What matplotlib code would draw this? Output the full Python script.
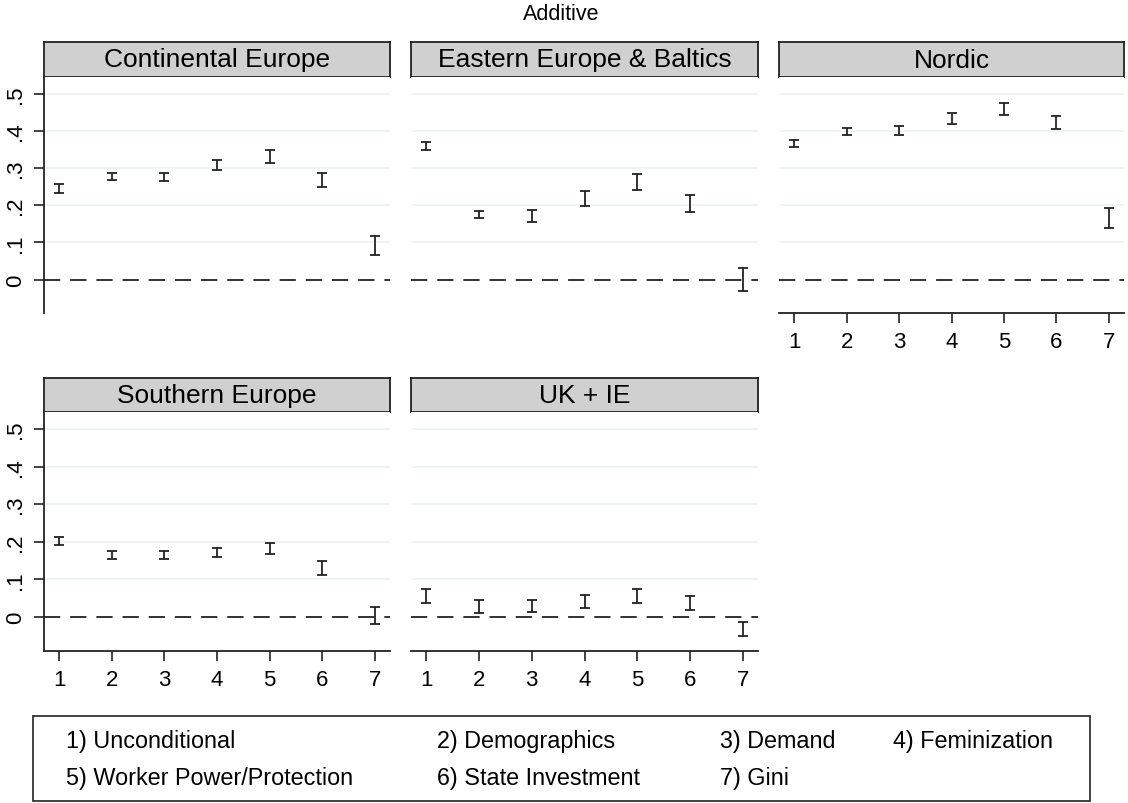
import matplotlib
matplotlib.use("Agg")
from matplotlib import pyplot as plt
from matplotlib.patches import Rectangle

plt.rcParams['font.family'] = ['Liberation Sans', 'DejaVu Sans']

# DATA: lower / upper bounds of the confidence intervals for each model 1..7
models = [1, 2, 3, 4, 5, 6, 7]
regions = ["Continental Europe", "Eastern Europe & Baltics", "Nordic",
           "Southern Europe", "UK + IE"]

cont_lo = [0.234, 0.268, 0.264, 0.294, 0.314, 0.249, 0.066]
cont_hi = [0.258, 0.288, 0.287, 0.321, 0.348, 0.287, 0.116]

east_lo = [0.348, 0.166, 0.154, 0.199, 0.241, 0.181, -0.031]
east_hi = [0.371, 0.184, 0.188, 0.237, 0.284, 0.227, 0.030]

nord_lo = [0.357, 0.389, 0.389, 0.419, 0.442, 0.405, 0.139]
nord_hi = [0.376, 0.409, 0.412, 0.448, 0.475, 0.439, 0.193]

south_lo = [0.191, 0.154, 0.154, 0.161, 0.167, 0.112, -0.019]
south_hi = [0.214, 0.176, 0.176, 0.183, 0.196, 0.149, 0.027]

uk_lo = [0.038, 0.010, 0.013, 0.024, 0.038, 0.020, -0.051]
uk_hi = [0.074, 0.045, 0.045, 0.060, 0.074, 0.056, -0.012]

lows = [cont_lo, east_lo, nord_lo, south_lo, uk_lo]
highs = [cont_hi, east_hi, nord_hi, south_hi, uk_hi]

yticks = [0, 0.1, 0.2, 0.3, 0.4, 0.5]
ytick_labels = ["0", ".1", ".2", ".3", ".4", ".5"]

legend_labels = ["1) Unconditional", "2) Demographics", "3) Demand", "4) Feminization",
                 "5) Worker Power/Protection", "6) State Investment", "7) Gini"]

W, H = 1128, 804
fig = plt.figure(figsize=(W / 100, H / 100), dpi=100)


def rect(x0, y0, x1, y1):
    """pixel box -> figure fraction"""
    return [x0 / W, 1 - y1 / H, (x1 - x0) / W, (y1 - y0) / H]


cols = [(44, 390), (411, 758), (779, 1124)]
rows = [(43, 78, 314), (379, 413, 652)]
# which spines each panel shows: (left axis, bottom axis)
axis_flags = [(True, False), (False, False), (False, True), (True, True), (False, True)]

for k, name in enumerate(regions):
    r, c = divmod(k, 3)
    x0, x1 = cols[c]
    s0, s1, p1 = rows[r]

    # strip
    sax = fig.add_axes(rect(x0, s0, x1, s1))
    sax.set_facecolor("#d0d0d0")
    sax.set_xticks([])
    sax.set_yticks([])
    for sp in sax.spines.values():
        sp.set_linewidth(1.3)
        sp.set_color("#222222")
    sax.text(0.5, 0.5, name, ha="center", va="center", fontsize=19, transform=sax.transAxes)

    ax = fig.add_axes(rect(x0, s1, x1, p1))
    lo = lows[k]
    hi = highs[k]
    mid = [(a + b) / 2 for a, b in zip(lo, hi)]
    err = [[m - a for m, a in zip(mid, lo)], [b - m for m, b in zip(mid, hi)]]
    ax.errorbar(models, mid, yerr=err, fmt="none", ecolor="#222222", elinewidth=1.3,
                capsize=3.3, capthick=1.3)
    ax.axhline(0, color="#222222", lw=1.3, dashes=(9, 5.5), zorder=1)
    for yt in yticks[1:]:
        ax.axhline(yt, color="#eaf2f3", lw=1.2, zorder=0)

    ax.set_xlim(0.71, 7.29)
    ax.set_ylim(-0.09, 0.545)

    show_left, show_bottom = axis_flags[k]
    for side in ["top", "right"]:
        ax.spines[side].set_visible(False)
    ax.spines["left"].set_visible(show_left)
    ax.spines["bottom"].set_visible(show_bottom)
    for side in ["left", "bottom"]:
        ax.spines[side].set_linewidth(1.3)
        ax.spines[side].set_color("#222222")

    ax.tick_params(axis="both", direction="out", length=7, width=1.2, color="#222222",
                   labelsize=16, pad=6)
    if show_left:
        ax.set_yticks(yticks)
        ax.set_yticklabels(ytick_labels, rotation=90, va="center")
    else:
        ax.set_yticks([])
    if show_bottom:
        ax.set_xticks(models)
        ax.set_xticklabels([str(m) for m in models])
    else:
        ax.set_xticks([])

fig.text(561 / W, 1 - 14 / H, "Additive", ha="center", va="center", fontsize=15.5)

# legend box
fig.patches.append(Rectangle((33 / W, 1 - 802 / H), (1090 - 33) / W, (802 - 717) / H,
                             transform=fig.transFigure, fill=False, edgecolor="#222222",
                             lw=1.2))
leg_x = [66, 437, 720, 893]
leg_y = [742, 779]
for i, lab in enumerate(legend_labels):
    rr, cc = divmod(i, 4)
    fig.text(leg_x[cc] / W, 1 - leg_y[rr] / H, lab, ha="left", va="center", fontsize=16.8)

fig.savefig("out.png", dpi=100)
